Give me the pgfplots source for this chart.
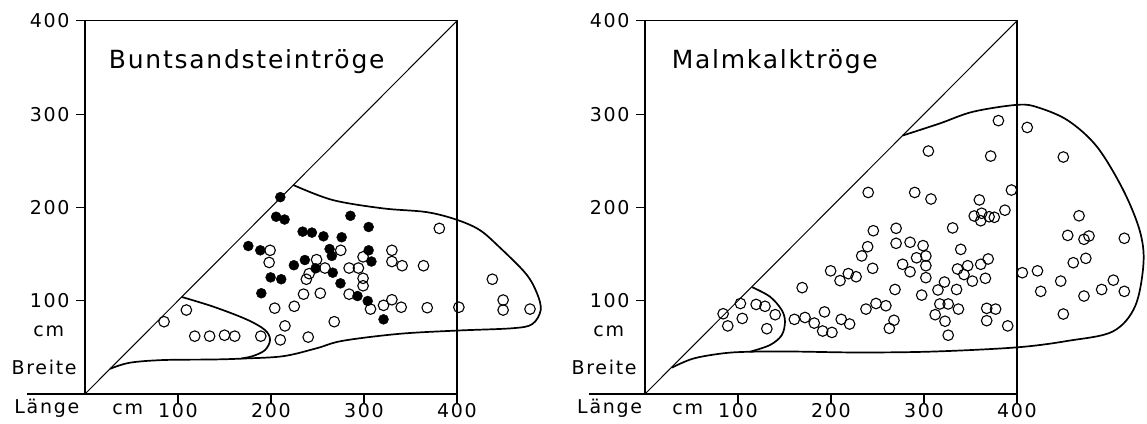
\documentclass[border=0pt]{standalone}
\usepackage{pgfplots}
\pgfplotsset{compat=1.18}
\usepackage{fontspec}
\setmainfont{DejaVu Sans}
\newfontfamily\lbl[LetterSpace=9]{DejaVu Sans}
\newfontfamily\ttl[LetterSpace=7]{DejaVu Sans}
\tikzset{lab/.style={font=\lbl\fontsize{19}{19}\selectfont, inner sep=1pt}}
\begin{document}
\begin{tikzpicture}
\path[use as bounding box] (0,0) rectangle (1147pt,423pt);
\pgfplotsset{
  troeg/.style={
    x=0.93pt, y=0.933pt, xmin=0, xmax=400, ymin=0, ymax=400,
    anchor=origin, clip=false,
    xtick={100,200,300,400}, ytick={100,200,300,400},
    tick align=outside, tick pos=left,
    major tick length=9pt,
    axis line style={line width=1.1pt},
    tick style={line width=1.1pt, black},
    ticklabel style={font=\lbl\fontsize{19}{19}\selectfont},
    xticklabel style={inner sep=1pt, yshift=1pt},
    yticklabel style={xshift=-3pt},
    /pgf/number format/assume math mode=true,
  },
  env/.style={line width=1.7pt, smooth, tension=0.55, no marks},
  diag/.style={line width=1pt, no marks},
  openc/.style={only marks, mark=o, mark size=5.3pt, mark options={line width=1.1pt}},
  fullc/.style={only marks, mark=*, mark size=5pt, mark options={fill=black, draw=black}},
}
% ---------- left panel ----------
\begin{axis}[troeg, at={(85pt,29pt)}]
\addplot[diag] coordinates {(0,0) (400,400)};
\draw[line width=1.1pt] (axis cs:-62,0) -- (axis cs:0,0);
\addplot[env] coordinates {(27,27) (48,33.5) (84,36.4) (138,37) (170,38) (213,40.5) (249,49) (277,57) (338,64.5) (400,68) (460,70.5) (481,75) (490,90) (486,108) (474,129) (445,158) (424,176) (399,187) (367,195) (320,199) (266,208) (224,224)};
\addplot[env] coordinates {(104,104) (138,93.6) (173.6,80) (193.5,68.6) (199,58) (193.5,47) (180.6,40.7) (168,38)};
\addplot[openc] coordinates {(85,77.5) (109,90) (118,62) (134,62) (150,63) (161,62) (189,62) (210,58) (215,73) (240,61) (204,92) (225,94) (235,107) (253,108) (268,77.5) (199,154) (198,141) (249,144) (241,129) (238,123) (258,135) (275,154) (284,135) (294,135) (299,147) (299,124) (299,116) (284,107) (307,91) (321,95) (330,101) (340,93) (330,154) (330,142) (341,137.5) (364,137.5) (368,92.5) (381,177.5) (402,93) (438,123) (449.6,100.7) (449.6,90) (478.5,91)};
\addplot[fullc] coordinates {(210,211) (205.5,190) (214.6,187) (175.6,158.6) (188.5,154) (234,174) (244,173) (256.4,169) (263,155.4) (265.4,148) (276,168) (285.4,191) (305,179) (305,154) (308,142) (236.4,143.6) (224.6,138) (248,134.7) (266.4,130) (199.6,125) (211,123) (274.7,118.6) (189.6,108) (293,105) (304,99.7) (321,80)};
\node[anchor=base west, font=\ttl\fontsize{25}{25}\selectfont] at (axis cs:22,349) {Buntsandsteintröge};
\node[lab] at (axis cs:-39,67.5) {cm};
\node[lab] at (axis cs:-44,28) {Breite};
\node[lab] at (axis cs:-41,-15.5) {Länge};
\node[lab] at (axis cs:46,-16.5) {cm};
\end{axis}
% ---------- right panel ----------
\begin{axis}[troeg, at={(645pt,29pt)}]
\addplot[diag] coordinates {(0,0) (400,400)};
\draw[line width=1.1pt] (axis cs:-60,0) -- (axis cs:0,0);
\addplot[env] coordinates {(28.7,28.2) (52,38) (84,43.6) (113,45.3) (160,45.5) (230,44.5) (310,45.5) (400,50) (455,57) (503,67) (527,94) (536,140) (532,175) (514,219) (486,265) (455,293) (423,307) (401,310) (353,302.6) (317,290) (277,277)};
\addplot[env] coordinates {(115.4,114.4) (134.4,104.3) (147,90) (150.5,77.5) (147,63) (134.4,52.5) (113,45.3)};
\addplot[openc] coordinates {(84,86) (89,73) (102.6,97) (104.6,81) (119.5,96) (129,94) (140,85) (131,70)
(160.6,80) (172,82) (182,76) (169,114) (191,67.5) (193,88) (201,66) (211,80) (220,75)
(199.6,132) (209.7,121.5) (218.6,129) (227,125.7) (233,148) (239.4,157.9) (244.8,134.7) (245.5,175) (240,216)
(237.6,91) (248.4,97) (259,94.6) (262.7,70.4) (267.7,79) (268.8,112) (270,177.6) (270,161.5) (277,139) (285,131) (285,162.6) (290,216)
(292,146) (299,159) (302,148) (302,137.5) (302,124.7) (297.5,106) (307.5,209) (304.7,260.4)
(312,85) (315,111.5) (317,96.5) (322,120) (322.6,78) (326,96.5) (326,63) (330.8,178) (336,134) (335,112) (337,91) (339.5,155) (343,128) (347,137.5) (352,121)
(354,190.8) (359.5,208) (362,193.7) (361,185.7) (361,139) (366,124) (369,144.7) (367.4,91.8) (367.4,78.6) (371.7,255) (370,190) (375.6,189.4) (377,91) (380,293) (387,197) (390,73) (394,218.6)
(405.7,130) (411,285.7) (422,132) (425.5,110) (447,121) (449.8,254) (449.8,85.7) (454.5,170) (460.5,140.7) (466.7,191) (472,165.8) (474,145.4) (472,105) (477.4,169.3) (491,112) (503.6,122) (515.4,110) (515.4,166.9)};
\node[anchor=base west, font=\ttl\fontsize{25}{25}\selectfont] at (axis cs:25,349) {Malmkalktröge};
\node[lab] at (axis cs:-39,67.5) {cm};
\node[lab] at (axis cs:-44,28) {Breite};
\node[lab] at (axis cs:-38,-15.5) {Länge};
\node[lab] at (axis cs:46,-16.5) {cm};
\end{axis}
\end{tikzpicture}
\end{document}
